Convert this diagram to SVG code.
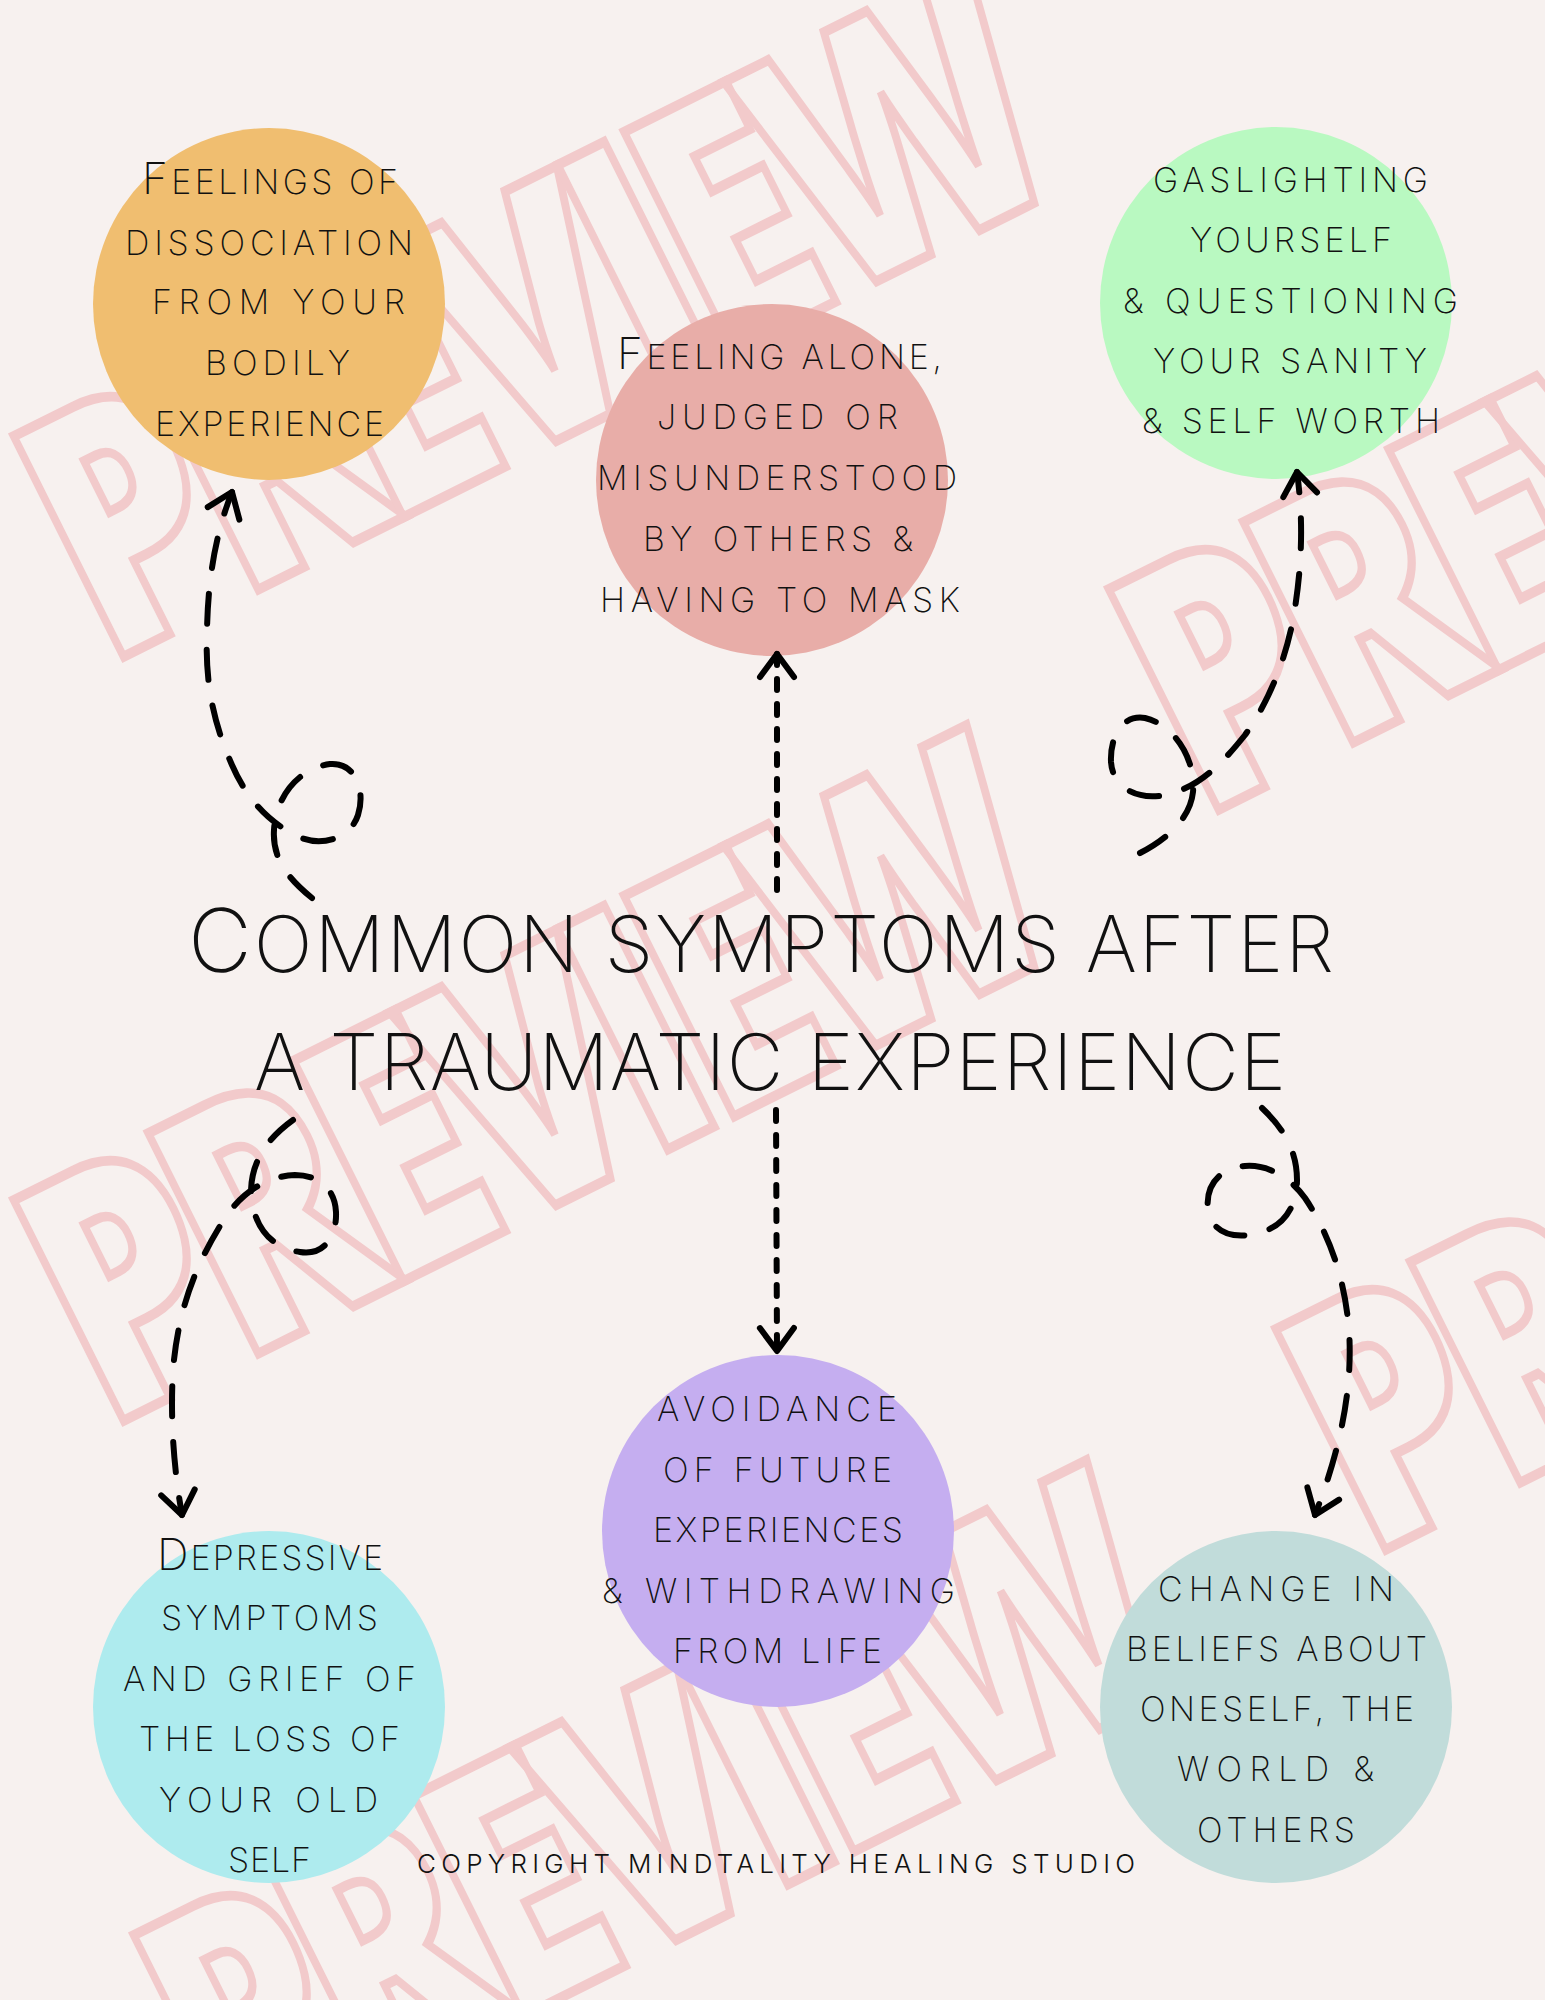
<svg xmlns="http://www.w3.org/2000/svg" width="1545" height="2000" viewBox="0 0 1545 2000">
<defs>
<style>
.bg{fill:#F7F1EF}
.wm text{font-family:"Open Sans","DejaVu Sans",sans-serif;font-weight:800;font-size:345px;fill:none;stroke:#F2CACB;stroke-width:10;stroke-linejoin:miter}
.node circle{stroke:none}
.t{font-family:Inter,"Open Sans","DejaVu Sans",sans-serif;font-weight:200;font-size:34px;fill:#111}
.t .cap{font-size:44px}
.title{font-size:78px}
.title .cap{font-size:88px}
.copy{font-size:26px;font-weight:300}
.conn path{fill:none;stroke:#000;stroke-width:6;stroke-linecap:round;stroke-linejoin:round}
.conn .curl{stroke-dasharray:30 26}
.conn .dot{stroke-dasharray:11 14}
</style>
<marker id="arrow" markerUnits="userSpaceOnUse" orient="auto" refX="0" refY="0" markerWidth="60" markerHeight="60" viewBox="-40 -30 60 60" overflow="visible">
<path d="M -23,-17 L 0,0 L -23,17" fill="none" stroke="#000" stroke-width="6" stroke-linecap="round" stroke-linejoin="round"/>
</marker>
</defs>
<rect class="bg" x="0" y="0" width="1545" height="2000"/>
<g id="watermark" class="wm">
<text transform="translate(105,666) rotate(-26.5) scale(0.78,1)" textLength="1397" lengthAdjust="spacing">PREVIEW</text>
<text transform="translate(105,1430) rotate(-26.5) scale(0.78,1)" textLength="1397" lengthAdjust="spacing">PREVIEW</text>
<text transform="translate(1200,819) rotate(-26.5) scale(0.78,1)" textLength="1397" lengthAdjust="spacing">PREVIEW</text>
<text transform="translate(1367,1559) rotate(-26.5) scale(0.78,1)" textLength="1397" lengthAdjust="spacing">PREVIEW</text>
<text transform="translate(225,2165) rotate(-26.5) scale(0.78,1)" textLength="1397" lengthAdjust="spacing">PREVIEW</text>
</g>
<g id="node-dissociation" class="node">
<circle cx="269" cy="304" r="176" fill="#F0BE70"/>
<text class="t" x="142" y="194" textLength="256" lengthAdjust="spacing"><tspan class="cap">F</tspan>EELINGS OF</text>
<text class="t" x="125" y="255" textLength="288" lengthAdjust="spacing">DISSOCIATION</text>
<text class="t" x="152" y="314" textLength="253" lengthAdjust="spacing">FROM YOUR</text>
<text class="t" x="205" y="375" textLength="145" lengthAdjust="spacing">BODILY</text>
<text class="t" x="155" y="436" textLength="229" lengthAdjust="spacing">EXPERIENCE</text>
</g>
<g id="node-alone" class="node">
<circle cx="772" cy="480" r="176" fill="#E8ADA8"/>
<text class="t" x="617" y="369" textLength="325" lengthAdjust="spacing"><tspan class="cap">F</tspan>EELING ALONE,</text>
<text class="t" x="657" y="429" textLength="241" lengthAdjust="spacing">JUDGED OR</text>
<text class="t" x="597" y="490" textLength="360" lengthAdjust="spacing">MISUNDERSTOOD</text>
<text class="t" x="643" y="551" textLength="270" lengthAdjust="spacing">BY OTHERS &amp;</text>
<text class="t" x="600" y="612" textLength="360" lengthAdjust="spacing">HAVING TO MASK</text>
</g>
<g id="node-gaslighting" class="node">
<circle cx="1276" cy="303" r="176" fill="#B9F9C1"/>
<text class="t" x="1153" y="192" textLength="275" lengthAdjust="spacing">GASLIGHTING</text>
<text class="t" x="1190" y="252" textLength="202" lengthAdjust="spacing">YOURSELF</text>
<text class="t" x="1123" y="313" textLength="335" lengthAdjust="spacing">&amp; QUESTIONING</text>
<text class="t" x="1153" y="373" textLength="274" lengthAdjust="spacing">YOUR SANITY</text>
<text class="t" x="1142" y="433" textLength="298" lengthAdjust="spacing">&amp; SELF WORTH</text>
</g>
<g id="node-avoidance" class="node">
<circle cx="778" cy="1531" r="176" fill="#C5AEF0"/>
<text class="t" x="657" y="1421" textLength="240" lengthAdjust="spacing">AVOIDANCE</text>
<text class="t" x="663" y="1482" textLength="229" lengthAdjust="spacing">OF FUTURE</text>
<text class="t" x="653" y="1542" textLength="250" lengthAdjust="spacing">EXPERIENCES</text>
<text class="t" x="602" y="1603" textLength="353" lengthAdjust="spacing">&amp; WITHDRAWING</text>
<text class="t" x="673" y="1663" textLength="209" lengthAdjust="spacing">FROM LIFE</text>
</g>
<g id="node-depressive" class="node">
<circle cx="269" cy="1707" r="176" fill="#AEEBEE"/>
<text class="t" x="157" y="1570" textLength="226" lengthAdjust="spacing"><tspan class="cap">D</tspan>EPRESSIVE</text>
<text class="t" x="161" y="1630" textLength="217" lengthAdjust="spacing">SYMPTOMS</text>
<text class="t" x="123" y="1691" textLength="293" lengthAdjust="spacing">AND GRIEF OF</text>
<text class="t" x="139" y="1751" textLength="261" lengthAdjust="spacing">THE LOSS OF</text>
<text class="t" x="159" y="1812" textLength="219" lengthAdjust="spacing">YOUR OLD</text>
<text class="t" x="228" y="1872" textLength="83" lengthAdjust="spacing">SELF</text>
</g>
<g id="node-beliefs" class="node">
<circle cx="1276" cy="1707" r="176" fill="#C1DCDA"/>
<text class="t" x="1158" y="1601" textLength="236" lengthAdjust="spacing">CHANGE IN</text>
<text class="t" x="1126" y="1661" textLength="301" lengthAdjust="spacing">BELIEFS ABOUT</text>
<text class="t" x="1140" y="1721" textLength="274" lengthAdjust="spacing">ONESELF, THE</text>
<text class="t" x="1177" y="1781" textLength="197" lengthAdjust="spacing">WORLD &amp;</text>
<text class="t" x="1197" y="1842" textLength="158" lengthAdjust="spacing">OTHERS</text>
</g>
<g id="node-title" class="node">
<text class="t title" x="188" y="972" textLength="1146" lengthAdjust="spacing"><tspan class="cap">C</tspan>OMMON SYMPTOMS AFTER</text>
<text class="t title" x="254" y="1090" textLength="1032" lengthAdjust="spacing">A TRAUMATIC EXPERIENCE</text>
</g>
<g id="connectors" class="conn">
<path class="curl" marker-end="url(#arrow)" d="M 312,898 C 290,880 272,860 274,830 C 276,795 300,768 330,764 C 355,762 366,790 358,815 C 350,840 318,848 295,835 C 265,820 245,795 232,765 C 212,720 205,680 207,630 C 208,580 215,535 232,492"/>
<path class="dot" marker-end="url(#arrow)" d="M 777,890 L 777,654"/>
<path class="curl" marker-end="url(#arrow)" d="M 1140,853 C 1165,840 1190,820 1193,792 C 1196,760 1175,725 1145,718 C 1120,714 1110,740 1111,762 C 1113,790 1140,800 1165,795 C 1200,788 1225,760 1245,735 C 1270,700 1285,660 1293,620 C 1300,580 1305,530 1297,472"/>
<path class="curl" marker-end="url(#arrow)" d="M 293,1120 C 268,1138 252,1160 251,1190 C 252,1225 270,1248 300,1252 C 325,1256 337,1235 336,1212 C 335,1188 318,1175 295,1175 C 265,1176 240,1195 225,1218 C 195,1265 178,1310 173,1370 C 170,1420 174,1470 182,1515"/>
<path class="dot" marker-end="url(#arrow)" d="M 776,1110 L 777,1351"/>
<path class="curl" marker-end="url(#arrow)" d="M 1262,1108 C 1283,1128 1297,1150 1297,1180 C 1297,1205 1285,1225 1262,1232 C 1238,1240 1212,1235 1208,1210 C 1205,1185 1220,1168 1245,1166 C 1270,1164 1292,1180 1305,1198 C 1330,1235 1345,1280 1349,1330 C 1353,1390 1340,1450 1315,1515"/>
</g>
<text class="t copy" x="417" y="1873" textLength="718" lengthAdjust="spacing">COPYRIGHT MINDTALITY HEALING STUDIO</text>
</svg>
